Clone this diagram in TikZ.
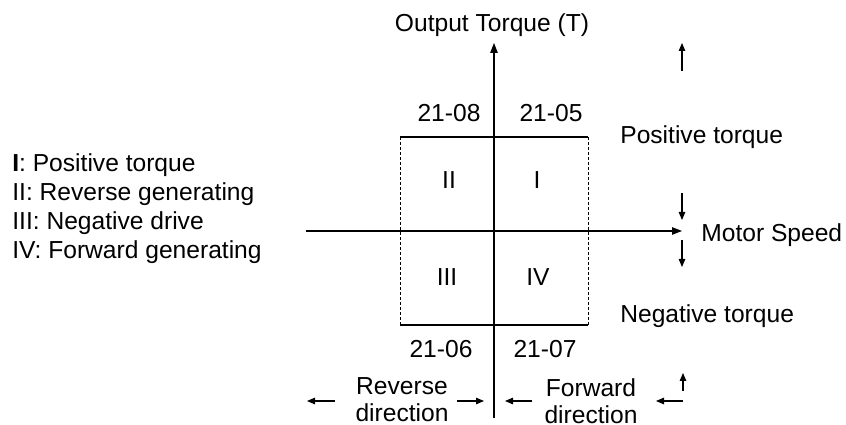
\documentclass[tikz,border=0pt]{standalone}
\usepackage{fontspec}
\setmainfont{Liberation Sans}
\usetikzlibrary{arrows.meta,positioning}

\begin{document}
\begin{tikzpicture}[
    x=0.02cm, y=-0.02cm,
    lbl/.style={inner sep=0pt, font=\fontsize{14}{15.3}\selectfont},
    arr/.style={-{Triangle[length=2mm, width=1.5mm]}, line width=0.6pt},
    sarr/.style={-{Triangle[length=1.6mm, width=1.3mm]}, line width=0.6pt},
    edge/.style={line width=0.6pt},
    side/.style={line width=0.5pt, dash pattern=on 0.6mm off 0.4mm},
]
    \useasboundingbox (0,0) rectangle (846,425);

    % axes
    \coordinate (Tlow) at (494,418);
    \coordinate (Ttip) at (494,43);
    \coordinate (Wlow) at (306,231);
    \coordinate (Wtip) at (682,231);
    \draw[arr] (Tlow) -- (Ttip);
    \draw[arr] (Wlow) -- (Wtip);

    % quadrant box
    \coordinate (bxNW) at (400,137);
    \coordinate (bxNE) at (588,137);
    \coordinate (bxSW) at (400,325);
    \coordinate (bxSE) at (588,325);
    \draw[edge] (bxNW) -- (bxNE);
    \draw[edge] (bxSW) -- (bxSE);
    \draw[side] (bxNW) -- (bxSW);
    \draw[side] (bxNE) -- (bxSE);

    \node[lbl, anchor=base] (axT) at (492,32) {Output Torque (T)};
    \node[lbl, anchor=base west] (axW) at (701,242) {Motor Speed};

    \node[lbl, anchor=base] (p2108) at (449,122) {21-08};
    \node[lbl, anchor=base] (p2105) at (551,122) {21-05};
    \node[lbl, anchor=base] (p2106) at (441,358) {21-06};
    \node[lbl, anchor=base] (p2107) at (545,358) {21-07};

    \node[lbl, anchor=base] (qII) at (449,189) {II};
    \node[lbl, anchor=base] (qI) at (537,189) {I};
    \node[lbl, anchor=base] (qIII) at (447,286) {III};
    \node[lbl, anchor=base] (qIV) at (538,286) {IV};

    \node[lbl, anchor=base west] (posT) at (620,144) {Positive torque};
    \node[lbl, anchor=base west] (negT) at (620,323) {Negative torque};

    \node[lbl, align=center, anchor=north] (rev) at (402,377) {Reverse\\direction};
    \node[lbl, align=center, anchor=north] (fwd) at (591,378) {Forward\\direction};

    % legend
    \node[lbl, anchor=base west] (lg1) at (12,172) {\textbf{I}: Positive torque};
    \node[lbl, anchor=base west] (lg2) at (12,201) {II: Reverse generating};
    \node[lbl, anchor=base west] (lg3) at (12,230) {III: Negative drive};
    \node[lbl, anchor=base west] (lg4) at (12,259) {IV: Forward generating};

    % small arrows, right side
    \coordinate (upA) at (682,71);  \coordinate (upB) at (682,43);
    \coordinate (dnA) at (682,193); \coordinate (dnB) at (682,220);
    \coordinate (dnC) at (682,240); \coordinate (dnD) at (682,267);
    \draw[sarr] (upA) -- (upB);
    \draw[sarr] (dnA) -- (dnB);
    \draw[sarr] (dnC) -- (dnD);

    % small arrows, bottom
    \coordinate (r1a) at (335,401); \coordinate (r1b) at (307,401);
    \coordinate (r2a) at (457,401); \coordinate (r2b) at (484,401);
    \coordinate (f1a) at (532,401); \coordinate (f1b) at (505,401);
    \coordinate (f2a) at (683,401); \coordinate (f2b) at (656,401);
    \coordinate (f3a) at (683,391); \coordinate (f3b) at (683,373);
    \draw[sarr] (r1a) -- (r1b);
    \draw[sarr] (r2a) -- (r2b);
    \draw[sarr] (f1a) -- (f1b);
    \draw[sarr] (f2a) -- (f2b);
    \draw[sarr] (f3a) -- (f3b);
\end{tikzpicture}
\end{document}
